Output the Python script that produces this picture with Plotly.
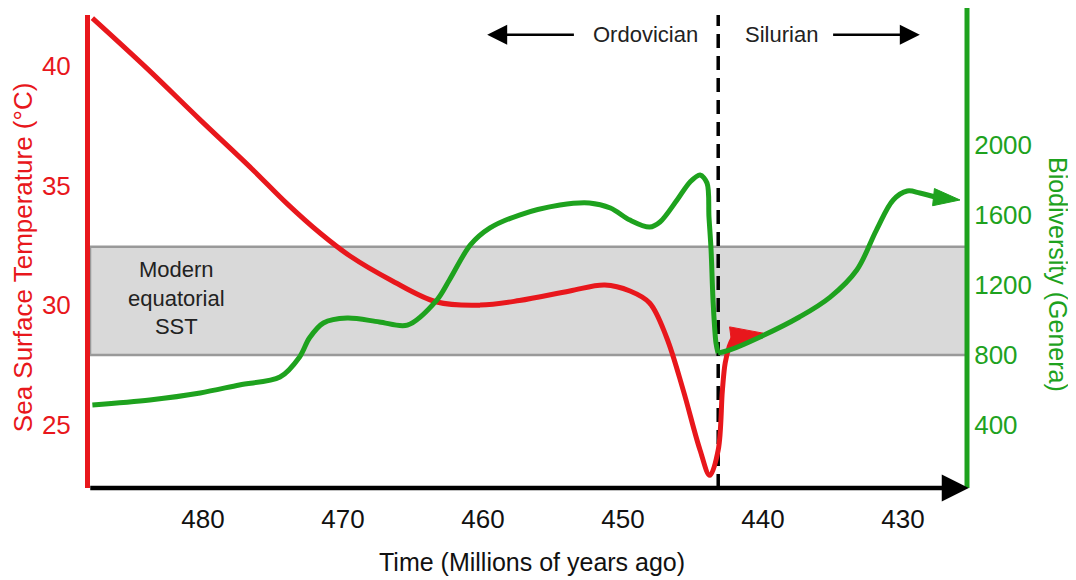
import plotly.graph_objects as go

# ---------------- data ----------------
# Sea surface temperature (deg C) vs time (Ma)
sst_time = [487.9, 484.0, 480.2, 476.5, 474.0, 471.6, 469.5, 466.6, 463.3, 460.2, 457.4,
            453.8, 451.3, 449.5, 448.1, 446.9, 445.7, 444.5, 443.8, 443.2, 442.9,
            442.7, 442.4, 442.1]
sst_temp = [42.0, 39.9, 37.75, 35.7, 34.25, 33.0, 32.06, 31.06, 30.14, 30.01, 30.2,
            30.6, 30.85, 30.6, 30.1, 28.68, 26.46, 23.96, 22.9, 23.96, 26.46,
            27.6, 28.3, 28.68]
sst_arrow_tip = (440.0, 28.84)

# Biodiversity (genera) vs time (Ma): Ordovician part, then Silurian recovery
bio_time_a = [487.9, 483.8, 480.2, 477.4, 474.5, 473.1, 472.4, 471.4, 469.7, 467.4,
              465.4, 463.3, 462.4, 460.9, 459.5, 457.4, 454.5, 452.4, 450.9, 449.5,
              448.1, 447.36, 446.14, 445.21, 444.5, 444.0, 443.86, 443.71, 443.57,
              443.36, 443.21]
bio_gen_a = [514, 543, 583, 629, 674, 789, 897, 983, 1011, 989,
             971, 1114, 1229, 1429, 1526, 1600, 1657, 1669, 1640, 1571,
             1531, 1560, 1686, 1789, 1829, 1783, 1589, 1400, 1114,
             869, 811]
bio_time_b = [443.21, 442.36, 440.21, 437.4, 435.2, 433.3, 431.9, 430.7, 429.7,
              428.8, 427.57]
bio_gen_b = [811, 829, 903, 1017, 1131, 1286, 1514, 1686, 1737, 1726, 1700]
bio_arrow_tip = (425.93, 1686)

# Modern equatorial SST band (deg C)
band_low, band_high = 27.93, 32.45
boundary_time = 443.2  # Ordovician / Silurian boundary

x_ticks = [480, 470, 460, 450, 440, 430]
sst_ticks = [25, 30, 35, 40]
bio_ticks = [400, 800, 1200, 1600, 2000]

x_range = [488.07, 425.43]
sst_range = [22.37, 42.13]
bio_range = [40, 2743]

RED = "#e8171c"
GREEN = "#1ea21e"
FONT = "Liberation Sans, Arial, sans-serif"

fig = go.Figure()

fig.add_trace(go.Scatter(x=sst_time, y=sst_temp, mode="lines",
                         line=dict(color=RED, width=5, shape="spline", smoothing=1.0),
                         hoverinfo="skip", showlegend=False))
fig.add_trace(go.Scatter(x=[sst_time[-1], sst_arrow_tip[0]], y=[sst_temp[-1], sst_arrow_tip[1]],
                         mode="markers",
                         marker=dict(symbol="arrow", size=[0, 34], angleref="previous",
                                     color=RED, opacity=1, line=dict(width=1, color=RED)),
                         hoverinfo="skip", showlegend=False))

fig.add_trace(go.Scatter(x=bio_time_a, y=bio_gen_a, mode="lines", yaxis="y2",
                         line=dict(color=GREEN, width=5, shape="spline", smoothing=0.9),
                         hoverinfo="skip", showlegend=False))
fig.add_trace(go.Scatter(x=bio_time_b, y=bio_gen_b, mode="lines", yaxis="y2",
                         line=dict(color=GREEN, width=5, shape="spline", smoothing=1.0),
                         hoverinfo="skip", showlegend=False))
fig.add_trace(go.Scatter(x=[bio_time_b[-1], bio_arrow_tip[0]], y=[bio_gen_b[-1], bio_arrow_tip[1]],
                         mode="markers", yaxis="y2",
                         marker=dict(symbol="arrow", size=[0, 28], angleref="previous",
                                     color=GREEN, opacity=1, line=dict(width=1, color=GREEN)),
                         hoverinfo="skip", showlegend=False))

shapes = [
    dict(type="rect", xref="paper", x0=0, x1=1, yref="y", y0=band_low, y1=band_high,
         fillcolor="#d9d9d9", line=dict(color="#999999", width=2.5), layer="below"),
    dict(type="line", xref="x", x0=boundary_time, x1=boundary_time, yref="paper", y0=0, y1=1,
         line=dict(color="black", width=3.5, dash="14px,8px"), layer="below"),
    dict(type="line", xref="paper", x0=1, x1=1, yref="paper", y0=0, y1=1.02,
         line=dict(color=GREEN, width=5)),
]

annotations = [
    # x-axis line with arrow
    dict(xref="paper", yref="paper", x=1.002, y=0, ax=-880, ay=0, axref="pixel", ayref="pixel",
         text="", showarrow=True, arrowhead=2, arrowwidth=4.5, arrowsize=1.2, arrowcolor="black"),
    # period arrows
    dict(xref="x", yref="paper", x=459.7, y=0.958, ax=453.4, ay=0, axref="x", ayref="pixel",
         text="", showarrow=True, arrowhead=2, arrowwidth=2.5, arrowsize=1.6, arrowcolor="black"),
    dict(xref="x", yref="paper", x=428.8, y=0.958, ax=435.1, ay=0, axref="x", ayref="pixel",
         text="", showarrow=True, arrowhead=2, arrowwidth=2.5, arrowsize=1.6, arrowcolor="black"),
    dict(xref="x", yref="paper", x=448.4, y=0.958, text="Ordovician", showarrow=False,
         xanchor="center", yanchor="middle",
         font=dict(size=22, color="#222", family=FONT)),
    dict(xref="x", yref="paper", x=438.7, y=0.958, text="Silurian", showarrow=False,
         xanchor="center", yanchor="middle",
         font=dict(size=22, color="#222", family=FONT)),
    dict(xref="x", yref="y", x=481.9, y=30.3, text="Modern<br>equatorial<br>SST", showarrow=False,
         xanchor="center", yanchor="middle",
         font=dict(size=22, color="#222", family=FONT)),
    # axis titles
    dict(xref="paper", yref="paper", x=-0.0764, y=0.488, text="Sea Surface Temperature (°C)",
         textangle=-90, showarrow=False, xanchor="center", yanchor="middle",
         font=dict(size=26, color=RED, family=FONT)),
    dict(xref="paper", yref="paper", x=1.104, y=0.452, text="Biodiversity (Genera)",
         textangle=90, showarrow=False, xanchor="center", yanchor="middle",
         font=dict(size=25, color=GREEN, family=FONT)),
    dict(xref="paper", yref="paper", x=0.504, y=-0.156, text="Time (Millions of years ago)",
         showarrow=False, xanchor="center", yanchor="middle",
         font=dict(size=25, color="#111", family=FONT)),
]

fig.update_layout(
    width=1068, height=572,
    margin=dict(l=82, r=109, t=7, b=92),
    paper_bgcolor="white", plot_bgcolor="white",
    font=dict(family=FONT),
    showlegend=False,
    shapes=shapes, annotations=annotations,
    xaxis=dict(range=x_range, tickvals=x_ticks, showgrid=False, zeroline=False, showline=False,
               ticks="outside", ticklen=8, tickcolor="rgba(0,0,0,0)",
               tickfont=dict(size=26, color="#111", family=FONT)),
    yaxis=dict(range=sst_range, tickvals=sst_ticks, showgrid=False, zeroline=False,
               showline=True, linecolor=RED, linewidth=5,
               ticks="outside", ticklen=9, tickcolor="rgba(0,0,0,0)",
               tickfont=dict(size=26, color=RED, family=FONT)),
    yaxis2=dict(range=bio_range, tickvals=bio_ticks, overlaying="y", side="right",
                showgrid=False, zeroline=False, showline=False,
                ticks="outside", ticklen=1, tickcolor="rgba(0,0,0,0)",
                tickfont=dict(size=26, color=GREEN, family=FONT)),
)

fig.write_html("out.html")
